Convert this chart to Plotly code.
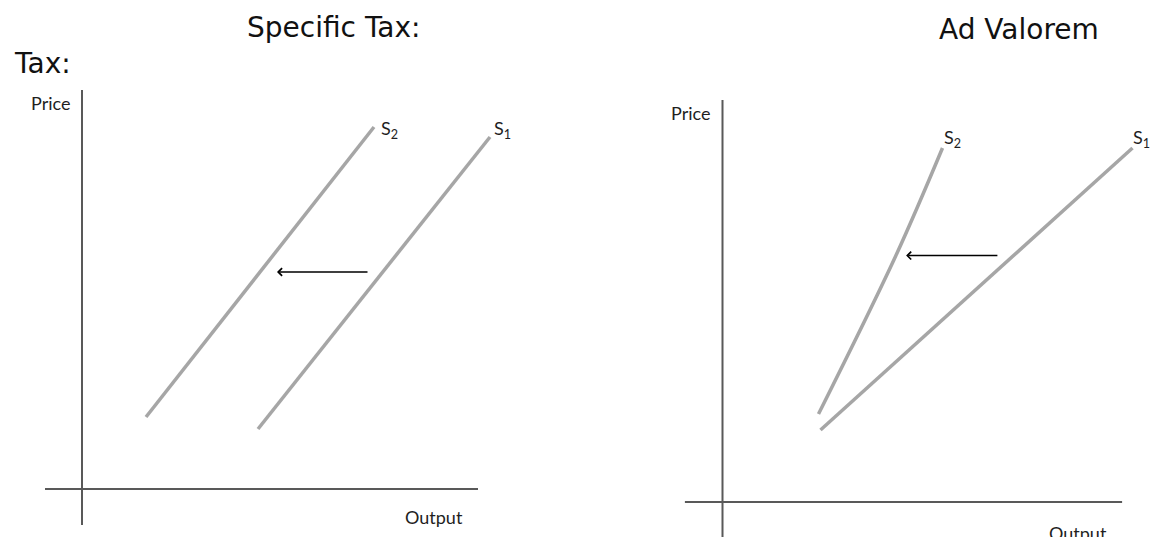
import plotly.graph_objects as go

# ---- Specific tax panel (quantity / price in diagram units) ----
spec_s1_q = [4.4, 10.2]
spec_s1_p = [1.5, 8.8]
spec_s2_q = [1.6, 7.3]
spec_s2_p = [1.8, 9.05]
spec_shift_from_q = 7.175
spec_shift_to_q = 4.875
spec_shift_p = 5.425

# ---- Ad valorem panel ----
adv_s1_q = [2.45, 10.25]
adv_s1_p = [1.8, 8.85]
adv_s2_q = [2.4, 4.33, 5.5]
adv_s2_p = [2.2, 6.15, 8.85]
adv_shift_from_q = 6.91
adv_shift_to_q = 4.59
adv_shift_p = 6.16

W, H = 1151, 537
SUPPLY = "#a6a6a6"
AXIS = "#595959"
LABEL_FONT = dict(family="Lato", size=18, color="#1f1f1f")
TITLE_FONT = dict(family="DejaVu Sans", size=28, color="#111111")

fig = go.Figure()

fig.add_trace(go.Scatter(x=spec_s1_q, y=spec_s1_p, mode="lines",
                         line=dict(color=SUPPLY, width=3.5), xaxis="x", yaxis="y"))
fig.add_trace(go.Scatter(x=spec_s2_q, y=spec_s2_p, mode="lines",
                         line=dict(color=SUPPLY, width=3.5), xaxis="x", yaxis="y"))
fig.add_trace(go.Scatter(x=adv_s1_q, y=adv_s1_p, mode="lines",
                         line=dict(color=SUPPLY, width=3.5), xaxis="x2", yaxis="y2"))
fig.add_trace(go.Scatter(x=adv_s2_q, y=adv_s2_p, mode="lines",
                         line=dict(color=SUPPLY, width=3.5, shape="spline", smoothing=1),
                         xaxis="x2", yaxis="y2"))

# Axis lines of each diagram (drawn as shapes, crossing at the origin)
axis_shapes = [
    dict(type="line", xref="x", yref="y", x0=0, x1=0, y0=9.975, y1=-0.9),
    dict(type="line", xref="x", yref="y", x0=-0.925, x1=9.9, y0=0, y1=0),
    dict(type="line", xref="x2", yref="y2", x0=0, x1=0, y0=10.05, y1=-0.9),
    dict(type="line", xref="x2", yref="y2", x0=-0.94, x1=9.99, y0=0, y1=0),
]
for s in axis_shapes:
    s["line"] = dict(color=AXIS, width=2)
fig.update_layout(shapes=axis_shapes)

ann = []
# Shift arrows
ann.append(dict(xref="x", yref="y", axref="x", ayref="y",
                x=spec_shift_to_q, y=spec_shift_p, ax=spec_shift_from_q, ay=spec_shift_p,
                text="", showarrow=True, arrowhead=4, arrowsize=1, arrowwidth=1.5,
                arrowcolor="#000000", standoff=0, startstandoff=0))
ann.append(dict(xref="x2", yref="y2", axref="x2", ayref="y2",
                x=adv_shift_to_q, y=adv_shift_p, ax=adv_shift_from_q, ay=adv_shift_p,
                text="", showarrow=True, arrowhead=4, arrowsize=1, arrowwidth=1.5,
                arrowcolor="#000000", standoff=0, startstandoff=0))


def px(xp, yp, text, xanchor="center", yanchor="middle", font=LABEL_FONT):
    return dict(xref="paper", yref="paper", x=xp / W, y=1 - yp / H, text=text,
                showarrow=False, xanchor=xanchor, yanchor=yanchor, font=font)


# Titles
ann.append(px(334, 27, "Specific Tax:", font=TITLE_FONT))
ann.append(px(1019, 29, "Ad Valorem", font=TITLE_FONT))
ann.append(px(12, 64, "Tax:", xanchor="left", font=TITLE_FONT))

# Axis labels
ann.append(px(72, 103, "Price", xanchor="right"))
ann.append(px(712, 113, "Price", xanchor="right"))
ann.append(px(434, 517, "Output"))
ann.append(px(1078, 533, "Output"))

# Curve labels
ann.append(px(379, 130, "S<sub>2</sub>", xanchor="left"))
ann.append(px(492, 130, "S<sub>1</sub>", xanchor="left"))
ann.append(px(942, 138, "S<sub>2</sub>", xanchor="left"))
ann.append(px(1131, 138, "S<sub>1</sub>", xanchor="left"))

fig.update_layout(annotations=ann)

# Diagram scales: 1 unit = 40 px, origins placed inside each half
fig.update_layout(
    width=W, height=H, autosize=False,
    margin=dict(l=0, r=0, t=0, b=0, pad=0),
    paper_bgcolor="white", plot_bgcolor="white",
    showlegend=False,
    xaxis=dict(domain=[0, 0.5], range=[-2.05, 12.3375], visible=False, fixedrange=True),
    yaxis=dict(domain=[0, 1], range=[-1.2, 12.225], visible=False, fixedrange=True),
    xaxis2=dict(domain=[0.5, 1], range=[-3.675, 10.7125], visible=False, fixedrange=True),
    yaxis2=dict(domain=[0, 1], range=[-0.875, 12.55], visible=False, fixedrange=True,
                anchor="x2"),
)

fig.write_html("out.html", config={"displayModeBar": False})
